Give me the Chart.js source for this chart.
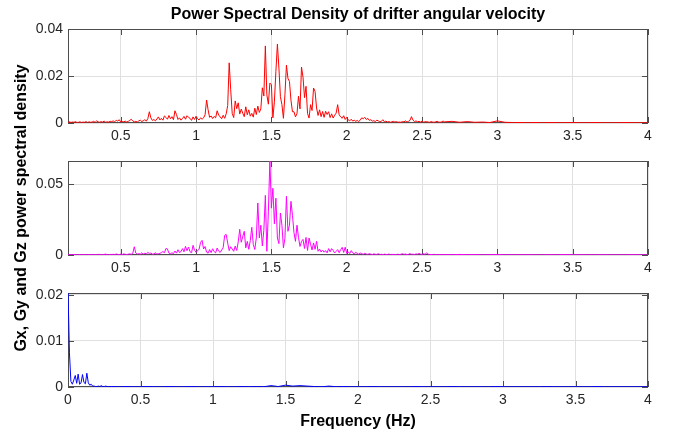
<!DOCTYPE html>
<html>
<head>
<meta charset="utf-8">
<script src="https://cdn.jsdelivr.net/npm/chart.js@4.4.1/dist/chart.umd.min.js"></script>
<style>
  html, body { margin: 0; padding: 0; background: #fff; }
  #wrap { position: relative; width: 682px; height: 432px; }
  #wrap canvas { position: absolute; left: 0; top: 0; }
</style>
</head>
<body>
<div id="wrap">
  <canvas id="gx" width="682" height="432"></canvas>
  <canvas id="gy" width="682" height="432"></canvas>
  <canvas id="gz" width="682" height="432"></canvas>
</div>
<script>
// PSD values, in units of 1e-3
// Gx / Gy: 0.01 Hz bins from 0.15 Hz, then 0.05 Hz bins from 2.65 Hz
const gxStart = 0.15, gxStep = 0.01;
const gxDense = [
  0.3,0.5,0.2,0.4,0.3,0.6,0.2,0.3,0.5,0.2,
  0.4,0.3,0.6,0.2,0.5,0.3,0.4,0.7,0.3,0.9,
  0.5,0.3,0.6,0.4,0.8,0.3,0.5,0.4,0.7,0.6,
  0.9,0.5,1.2,0.8,1.4,0.4,0.6,0.5,0.8,0.4,
  0.7,1.1,1.6,0.9,0.5,0.7,0.4,0.9,1.2,0.6,
  1.0,1.4,0.8,1.9,4.8,2.2,1.1,1.5,0.9,1.7,
  2.6,1.3,2.0,1.2,3.0,2.4,1.6,3.2,1.8,2.7,
  1.4,5.2,3.6,1.5,2.2,1.2,1.9,2.8,1.6,3.1,
  2.4,2.0,1.1,2.6,1.5,2.9,1.8,1.3,2.2,1.6,
  2.2,3.5,9.8,5.6,2.4,3.0,1.9,2.8,2.2,5.2,
  3.4,2.6,1.8,3.3,2.0,3.9,7.4,25.6,14.2,4.1,
  2.3,9.4,6.1,8.6,3.8,5.9,4.2,2.7,6.9,3.5,
  5.6,2.9,4.1,2.5,6.3,3.6,7.2,4.5,6.0,15.0,
  11.5,32.8,12.0,8.0,17.0,16.3,2.2,9.0,22.0,33.6,
  23.4,11.2,7.8,2.0,12.0,24.6,19.0,17.7,9.7,4.8,
  4.8,2.6,4.0,11.4,6.0,23.8,19.5,10.8,15.6,4.1,
  2.1,7.8,5.3,14.9,13.4,6.4,3.2,5.6,2.7,4.9,
  2.4,5.0,3.6,4.8,2.3,3.9,2.1,3.3,4.2,7.8,
  3.5,2.6,2.0,3.1,1.5,2.4,1.3,0.9,1.6,0.8,
  1.2,0.7,1.1,0.6,1.3,2.2,1.8,2.4,1.5,2.0,
  1.1,1.4,0.8,1.0,0.6,1.2,0.9,0.5,0.7,1.4,
  0.5,0.8,0.4,0.6,0.3,0.5,0.7,0.4,0.6,0.3,
  0.4,0.3,0.6,0.5,0.9,0.4,0.7,1.1,2.7,1.2,
  0.6,0.9,0.5,0.7,0.4,0.8,0.3,0.5,0.6,0.4,
  0.3,0.6,0.4,0.3,0.5,0.7,0.4,0.3,0.5,0.8
];
const gxTailStart = 2.65, gxTailStep = 0.05;
const gxTail = [0.5,0.7,0.3,0.6,0.3,0.4,0.2,0.9,0.3,0.2,0.2,0.1,0.2,0.1,0.2,0.1,0.1,0.2,0.1,0.1,0.2,0.1,0.1,0.1,0.2,0.1,0.1,0.1];

const gyStart = 0.15, gyStep = 0.01;
const gyDense = [
  0.2,0.3,0.1,0.2,0.4,0.2,0.1,0.3,0.2,0.1,
  0.3,0.2,0.1,0.2,0.3,0.4,0.2,0.1,0.3,0.2,
  0.5,0.2,0.3,0.2,0.4,0.6,0.3,0.2,0.4,0.3,
  0.5,0.3,0.7,0.4,0.2,0.6,0.3,0.8,0.5,0.3,
  0.6,0.8,0.5,1.2,5.8,1.4,0.5,1.0,0.6,1.6,
  0.5,1.3,0.7,1.9,0.9,1.4,0.6,0.8,1.5,0.7,
  0.9,1.1,1.8,2.4,1.6,4.6,4.2,1.3,0.9,1.5,
  1.0,2.8,1.3,3.7,1.8,2.4,4.5,2.2,6.1,3.0,
  5.6,2.3,1.6,6.8,3.4,1.9,3.1,4.0,8.9,10.3,
  4.2,6.0,2.0,1.3,3.8,1.7,4.4,2.4,1.5,4.9,
  2.7,1.8,3.5,5.2,13.8,14.5,8.4,3.1,5.8,4.2,
  2.6,6.3,3.2,9.2,18.1,9.0,13.0,16.7,5.0,9.6,
  4.0,10.1,19.5,7.3,3.9,12.0,36.6,12.0,21.0,6.4,
  17.5,42.0,2.6,30.4,66.2,33.0,47.0,22.0,40.0,12.0,
  8.0,29.6,21.0,5.0,11.8,41.3,16.7,21.0,37.8,28.0,
  15.8,9.6,21.0,12.4,6.0,9.6,11.0,4.6,12.4,3.2,
  12.0,7.6,3.5,8.5,4.0,9.6,2.6,4.2,2.1,3.4,
  2.0,3.1,1.5,4.5,2.2,4.5,3.2,1.4,2.6,3.8,
  1.6,3.8,5.4,1.8,5.5,1.2,2.2,1.0,3.1,1.5,
  0.8,1.9,1.1,0.6,1.4,0.9,0.5,1.2,0.7,0.4,
  1.0,0.6,0.3,0.8,0.5,0.4,0.9,0.3,0.5,0.2,
  0.6,0.4,0.3,0.7,0.2,0.5,0.3,0.4,0.2,0.6,
  0.3,0.5,0.9,0.4,0.7,0.3,0.5,1.0,0.4,0.6,
  0.3,0.8,0.5,1.1,0.6,0.4,0.9,0.5,1.4,0.6,
  0.3,0.4,0.2,0.5,0.3,0.2,0.4,0.3,0.2,0.3
];
const gyTailStart = 2.65, gyTailStep = 0.05;
const gyTail = [0.3,0.2,0.4,0.2,0.3,0.1,0.2,0.3,0.1,0.2,0.1,0.2,0.1,0.1,0.2,0.1,0.3,0.1,0.2,0.1,0.1,0.2,0.1,0.1,0.1,0.2,0.1,0.1];

// Gz: 0.01 Hz bins from 0 Hz, then 0.05 Hz bins from 0.30 Hz
const gzStart = 0, gzStep = 0.01;
const gzDense = [
  21.0,7.4,1.2,0.6,1.5,2.5,0.8,2.8,0.6,0.9,
  2.7,1.0,0.7,3.0,0.9,0.4,0.6,0.2,0.2,0.1,
  0.1,0.2,0.1,0.3,0.1,0.1,0.2,0.1,0.1,0.1
];
const gzTailStart = 0.30, gzTailStep = 0.05;
const gzTail = [
  0.1,0.05,0.1,0.05,0.05,0.1,0.05,0.05,0.1,0.05,
  0.05,0.1,0.05,0.05,0.05,0.1,0.05,0.05,0.1,0.05,
  0.1,0.05,0.3,0.1,0.4,0.2,0.3,0.2,0.1,0.05,
  0.2,0.05,0.1,0.05,0.05,0.05,0.1,0.05,0.05,0.05,
  0.05,0.05,0.1,0.05,0.05,0.05,0.05,0.1,0.05,0.05,
  0.05,0.05,0.05,0.1,0.05,0.05,0.05,0.05,0.05,0.05,
  0.1,0.05,0.05,0.05,0.05,0.05,0.05,0.1,0.05,0.05,
  0.05,0.05,0.05,0.05,0.05
];

// tick positions
const xTicksUpper = [0.5, 1, 1.5, 2, 2.5, 3, 3.5, 4];
const xTicksLower = [0, 0.5, 1, 1.5, 2, 2.5, 3, 3.5, 4];
const yTicksGx = [0, 0.02, 0.04];
const yTicksGy = [0, 0.05];
const yTicksGz = [0, 0.01, 0.02];

const FONT = 'Liberation Sans, Arial, Helvetica, sans-serif';
const tickColor = '#262626';
const gridColor = '#e0e0e0';

function toPoints(start, step, vals, tailStart, tailStep, tail) {
  const pts = vals.map((v, i) => ({ x: +(start + i * step).toFixed(3), y: v / 1000 }));
  tail.forEach((v, i) => pts.push({ x: +(tailStart + i * tailStep).toFixed(3), y: v / 1000 }));
  return pts;
}

const fmt = v => String(+Number(v).toFixed(4));

// MATLAB-like box with inward tick marks
const framePlugin = {
  id: 'frame',
  beforeDatasetsDraw(chart) {
    const { ctx, chartArea: a, scales } = chart;
    ctx.save();
    ctx.strokeStyle = '#4d4d4d';
    ctx.lineWidth = 1;
    ctx.beginPath();
    scales.x.ticks.forEach(t => {
      const px = Math.round(scales.x.getPixelForValue(t.value)) + 0.5;
      ctx.moveTo(px, a.bottom); ctx.lineTo(px, a.bottom - 6);
      ctx.moveTo(px, a.top); ctx.lineTo(px, a.top + 6);
    });
    scales.y.ticks.forEach(t => {
      const py = Math.round(scales.y.getPixelForValue(t.value)) + 0.5;
      ctx.moveTo(a.left, py); ctx.lineTo(a.left + 6, py);
      ctx.moveTo(a.right, py); ctx.lineTo(a.right - 6, py);
    });
    ctx.stroke();
    ctx.strokeRect(a.left + 0.5, a.top + 0.5, a.right - a.left - 1, a.bottom - a.top - 1);
    ctx.restore();
  }
};

function makeChart(id, cfg) {
  return new Chart(document.getElementById(id), {
    type: 'line',
    data: {
      datasets: [{
        data: cfg.points,
        borderColor: cfg.color,
        borderWidth: 1,
        pointRadius: 0,
        tension: 0,
        clip: 0
      }]
    },
    options: {
      responsive: false,
      animation: false,
      devicePixelRatio: 1,
      events: [],
      layout: { padding: cfg.padding },
      plugins: {
        legend: { display: false },
        tooltip: { enabled: false },
        title: cfg.title || { display: false }
      },
      scales: {
        x: {
          type: 'linear',
          min: cfg.xMin,
          max: 4,
          afterBuildTicks: s => { s.ticks = cfg.xTicks.map(v => ({ value: v })); },
          afterFit: s => { s.height = cfg.xHeight; },
          grid: { color: gridColor, drawTicks: false },
          border: { display: false },
          ticks: { padding: 5, color: tickColor, font: { family: FONT, size: 14 }, callback: fmt, maxRotation: 0, autoSkip: false },
          title: cfg.xTitle || { display: false }
        },
        y: {
          type: 'linear',
          min: 0,
          max: cfg.yMax,
          afterBuildTicks: s => { s.ticks = cfg.yTicks.map(v => ({ value: v })); },
          afterFit: s => { s.width = 68; },
          grid: { color: gridColor, drawTicks: false },
          border: { display: false },
          ticks: { padding: 5, color: tickColor, font: { family: FONT, size: 14 }, callback: fmt, autoSkip: false },
          title: cfg.yTitle || { display: false }
        }
      }
    },
    plugins: [framePlugin]
  });
}

makeChart('gx', {
  points: toPoints(gxStart, gxStep, gxDense, gxTailStart, gxTailStep, gxTail),
  color: '#ff0000',
  xMin: 0.15, xTicks: xTicksUpper, xHeight: 20,
  yMax: 0.04, yTicks: yTicksGx,
  padding: { top: 0, left: 0, right: 34, bottom: 289 },
  title: {
    display: true,
    fullSize: false, // centre over the plot box, not the canvas
    text: 'Power Spectral Density of drifter angular velocity',
    color: '#000',
    font: { family: FONT, size: 16, weight: 'bold', lineHeight: '18px' },
    padding: { top: 6, bottom: 5 }
  }
});

makeChart('gy', {
  points: toPoints(gyStart, gyStep, gyDense, gyTailStart, gyTailStep, gyTail),
  color: '#ff00ff',
  xMin: 0.15, xTicks: xTicksUpper, xHeight: 20,
  yMax: 0.0662, yTicks: yTicksGy,
  padding: { top: 161, left: 0, right: 34, bottom: 157 },
  yTitle: {
    display: true,
    text: 'Gx, Gy and Gz power spectral density',
    color: '#000',
    font: { family: FONT, size: 16, weight: 'bold', lineHeight: '18px' },
    padding: { top: 13, bottom: 0 }
  }
});

makeChart('gz', {
  points: toPoints(gzStart, gzStep, gzDense, gzTailStart, gzTailStep, gzTail),
  color: '#0000ff',
  xMin: 0, xTicks: xTicksLower, xHeight: 45,
  yMax: 0.0204, yTicks: yTicksGz,
  padding: { top: 293, left: 0, right: 34, bottom: 0 },
  xTitle: {
    display: true,
    text: 'Frequency (Hz)',
    color: '#000',
    font: { family: FONT, size: 16, weight: 'bold', lineHeight: '18px' },
    padding: { top: 0, bottom: 1 }
  }
});
</script>
</body>
</html>
